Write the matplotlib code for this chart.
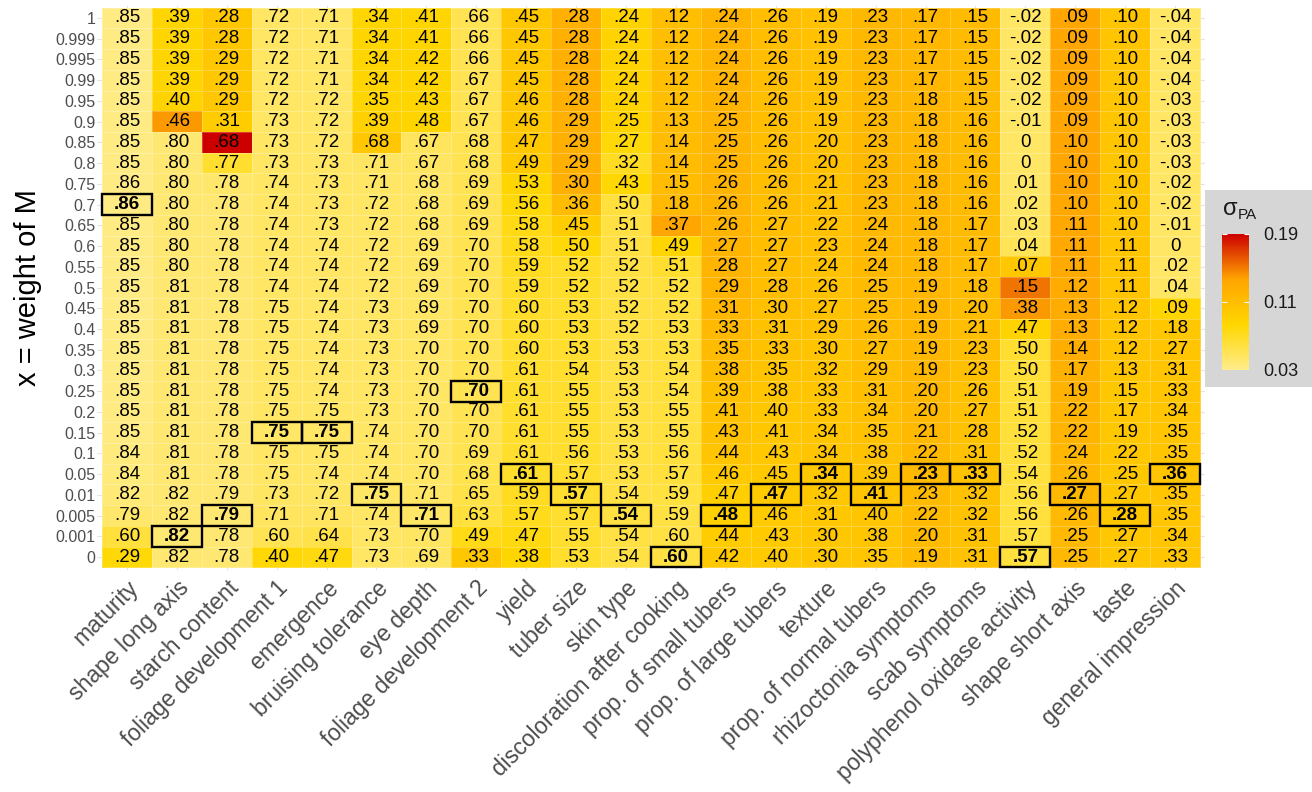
import numpy as np
import matplotlib
matplotlib.use("Agg")
import matplotlib.pyplot as plt
import matplotlib.colors as mcolors
from matplotlib.patches import Rectangle

plt.rcParams["font.family"] = ["Liberation Sans", "DejaVu Sans"]

ROW_LABELS = ["1", "0.999", "0.995", "0.99", "0.95", "0.9", "0.85", "0.8", "0.75", "0.7",
              "0.65", "0.6", "0.55", "0.5", "0.45", "0.4", "0.35", "0.3", "0.25", "0.2",
              "0.15", "0.1", "0.05", "0.01", "0.005", "0.001", "0"]

TRAITS = ["maturity", "shape long axis", "starch content", "foliage development 1",
          "emergence", "bruising tolerance", "eye depth", "foliage development 2",
          "yield", "tuber size", "skin type", "discoloration after cooking",
          "prop. of small tubers", "prop. of large tubers", "texture",
          "prop. of normal tubers", "rhizoctonia symptoms", "scab symptoms",
          "polyphenol oxidase activity", "shape short axis", "taste", "general impression"]

# correlation shown in each cell (rows top -> bottom as ROW_LABELS)
r_maturity   = [.85,.85,.85,.85,.85,.85,.85,.85,.86,.86,.85,.85,.85,.85,.85,.85,.85,.85,.85,.85,.85,.84,.84,.82,.79,.60,.29]
r_shape_long = [.39,.39,.39,.39,.40,.46,.80,.80,.80,.80,.80,.80,.80,.81,.81,.81,.81,.81,.81,.81,.81,.81,.81,.82,.82,.82,.82]
r_starch     = [.28,.28,.29,.29,.29,.31,.68,.77,.78,.78,.78,.78,.78,.78,.78,.78,.78,.78,.78,.78,.78,.78,.78,.79,.79,.78,.78]
r_fd1        = [.72,.72,.72,.72,.72,.73,.73,.73,.74,.74,.74,.74,.74,.74,.75,.75,.75,.75,.75,.75,.75,.75,.75,.73,.71,.60,.40]
r_emergence  = [.71,.71,.71,.71,.72,.72,.72,.73,.73,.73,.73,.74,.74,.74,.74,.74,.74,.74,.74,.75,.75,.75,.74,.72,.71,.64,.47]
r_bruising   = [.34,.34,.34,.34,.35,.39,.68,.71,.71,.72,.72,.72,.72,.72,.73,.73,.73,.73,.73,.73,.74,.74,.74,.75,.74,.73,.73]
r_eye        = [.41,.41,.42,.42,.43,.48,.67,.67,.68,.68,.68,.69,.69,.69,.69,.69,.70,.70,.70,.70,.70,.70,.70,.71,.71,.70,.69]
r_fd2        = [.66,.66,.66,.67,.67,.67,.68,.68,.69,.69,.69,.70,.70,.70,.70,.70,.70,.70,.70,.70,.70,.69,.68,.65,.63,.49,.33]
r_yield      = [.45,.45,.45,.45,.46,.46,.47,.49,.53,.56,.58,.58,.59,.59,.60,.60,.60,.61,.61,.61,.61,.61,.61,.59,.57,.47,.38]
r_tuber      = [.28,.28,.28,.28,.28,.29,.29,.29,.30,.36,.45,.50,.52,.52,.53,.53,.53,.54,.55,.55,.55,.56,.57,.57,.57,.55,.53]
r_skin       = [.24,.24,.24,.24,.24,.25,.27,.32,.43,.50,.51,.51,.52,.52,.52,.52,.53,.53,.53,.53,.53,.53,.53,.54,.54,.54,.54]
r_discol     = [.12,.12,.12,.12,.12,.13,.14,.14,.15,.18,.37,.49,.51,.52,.52,.53,.53,.54,.54,.55,.55,.56,.57,.59,.59,.60,.60]
r_small      = [.24,.24,.24,.24,.24,.25,.25,.25,.26,.26,.26,.27,.28,.29,.31,.33,.35,.38,.39,.41,.43,.44,.46,.47,.48,.44,.42]
r_large      = [.26,.26,.26,.26,.26,.26,.26,.26,.26,.26,.27,.27,.27,.28,.30,.31,.33,.35,.38,.40,.41,.43,.45,.47,.46,.43,.40]
r_texture    = [.19,.19,.19,.19,.19,.19,.20,.20,.21,.21,.22,.23,.24,.26,.27,.29,.30,.32,.33,.33,.34,.34,.34,.32,.31,.30,.30]
r_normal     = [.23,.23,.23,.23,.23,.23,.23,.23,.23,.23,.24,.24,.24,.25,.25,.26,.27,.29,.31,.34,.35,.38,.39,.41,.40,.38,.35]
r_rhizo      = [.17,.17,.17,.17,.18,.18,.18,.18,.18,.18,.18,.18,.18,.19,.19,.19,.19,.19,.20,.20,.21,.22,.23,.23,.22,.20,.19]
r_scab       = [.15,.15,.15,.15,.15,.16,.16,.16,.16,.16,.17,.17,.17,.18,.20,.21,.23,.23,.26,.27,.28,.31,.33,.32,.32,.31,.31]
r_ppo        = [-.02,-.02,-.02,-.02,-.02,-.01,0,0,.01,.02,.03,.04,.07,.15,.38,.47,.50,.50,.51,.51,.52,.52,.54,.56,.56,.57,.57]
r_short      = [.09,.09,.09,.09,.09,.09,.10,.10,.10,.10,.11,.11,.11,.12,.13,.13,.14,.17,.19,.22,.22,.24,.26,.27,.26,.25,.25]
r_taste      = [.10,.10,.10,.10,.10,.10,.10,.10,.10,.10,.10,.11,.11,.11,.12,.12,.12,.13,.15,.17,.19,.22,.25,.27,.28,.27,.27]
r_general    = [-.04,-.04,-.04,-.04,-.03,-.03,-.03,-.03,-.02,-.02,-.01,0,.02,.04,.09,.18,.27,.31,.33,.34,.35,.35,.36,.35,.35,.34,.33]

# sigma_PA (fill colour), estimated from the tile colours
s_maturity   = [.033,.033,.033,.033,.033,.033,.033,.033,.033,.033,.033,.033,.033,.033,.033,.033,.033,.033,.034,.034,.034,.035,.036,.038,.042,.060,.080]
s_shape_long = [.085,.085,.085,.085,.087,.140,.040,.040,.040,.040,.040,.040,.040,.040,.040,.040,.040,.040,.040,.040,.040,.040,.040,.040,.040,.040,.040]
s_starch     = [.100,.100,.100,.100,.100,.095,.190,.065,.042,.040,.040,.040,.040,.040,.040,.040,.040,.040,.040,.040,.040,.040,.040,.040,.040,.040,.040]
s_fd1        = [.045,.045,.045,.045,.045,.045,.045,.045,.045,.045,.045,.045,.045,.045,.045,.045,.045,.045,.045,.045,.045,.045,.045,.046,.047,.052,.082]
s_emergence  = [.045,.045,.045,.045,.045,.045,.045,.045,.045,.045,.045,.045,.045,.045,.045,.045,.045,.045,.045,.045,.045,.045,.045,.046,.047,.055,.078]
s_bruising   = [.085,.085,.085,.085,.085,.090,.100,.046,.045,.045,.045,.045,.045,.045,.045,.045,.045,.045,.045,.045,.045,.045,.045,.045,.045,.045,.045]
s_eye        = [.085,.085,.085,.085,.085,.085,.048,.046,.045,.045,.045,.045,.045,.045,.045,.045,.045,.045,.045,.045,.045,.045,.045,.045,.045,.046,.046]
s_fd2        = [.052,.052,.052,.052,.052,.052,.052,.052,.052,.052,.052,.052,.052,.052,.052,.052,.052,.052,.052,.052,.052,.053,.054,.056,.060,.075,.100]
s_yield      = [.100,.100,.100,.100,.100,.100,.100,.097,.085,.080,.075,.074,.070,.068,.067,.067,.066,.066,.066,.066,.066,.066,.067,.070,.072,.078,.085]
s_tuber      = [.125,.125,.125,.125,.125,.125,.125,.125,.125,.112,.095,.080,.068,.067,.066,.066,.065,.065,.065,.065,.065,.065,.065,.065,.065,.065,.066]
s_skin       = [.087,.087,.087,.087,.087,.087,.080,.070,.082,.060,.058,.058,.058,.058,.058,.058,.058,.058,.058,.058,.058,.058,.058,.058,.058,.058,.058]
s_discol     = [.110,.110,.110,.110,.110,.112,.112,.112,.112,.115,.135,.085,.065,.060,.060,.060,.060,.060,.060,.060,.060,.060,.060,.059,.058,.058,.058]
s_small      = [.120,.120,.120,.120,.120,.120,.120,.120,.120,.120,.120,.120,.120,.120,.117,.115,.113,.111,.108,.106,.105,.103,.097,.092,.090,.095,.098]
s_large      = [.110,.110,.110,.110,.110,.110,.110,.110,.110,.110,.110,.110,.110,.110,.108,.106,.105,.104,.102,.100,.100,.099,.098,.097,.097,.097,.097]
s_texture    = [.107,.107,.107,.107,.107,.107,.107,.107,.107,.107,.107,.107,.106,.106,.105,.105,.104,.104,.103,.103,.102,.102,.101,.100,.100,.100,.100]
s_normal     = [.116,.116,.116,.116,.116,.116,.116,.116,.116,.116,.115,.115,.114,.113,.112,.112,.111,.110,.109,.108,.107,.105,.104,.102,.102,.102,.103]
s_rhizo      = [.118,.118,.118,.118,.118,.118,.118,.118,.118,.118,.118,.118,.118,.117,.117,.117,.116,.116,.116,.115,.115,.114,.114,.113,.113,.113,.113]
s_scab       = [.113,.113,.113,.113,.113,.113,.113,.113,.113,.113,.113,.113,.112,.112,.111,.110,.109,.108,.107,.106,.106,.105,.105,.105,.105,.105,.105]
s_ppo        = [.045,.045,.045,.045,.045,.045,.045,.045,.045,.046,.047,.050,.100,.152,.140,.088,.065,.062,.062,.062,.061,.061,.060,.060,.060,.060,.060]
s_short      = [.136,.136,.136,.136,.136,.136,.135,.134,.134,.133,.132,.132,.131,.130,.129,.128,.127,.124,.122,.120,.119,.118,.117,.116,.115,.115,.115]
s_taste      = [.102,.102,.102,.102,.102,.102,.102,.102,.102,.102,.102,.102,.102,.102,.102,.102,.102,.102,.101,.101,.101,.100,.100,.100,.100,.100,.100]
s_general    = [.045,.045,.045,.045,.045,.045,.045,.045,.045,.045,.045,.045,.045,.046,.085,.100,.102,.102,.102,.102,.102,.102,.102,.102,.102,.102,.102]

# row label of the boxed (best) cell for each trait
BEST = ["0.7", "0.001", "0.005", "0.15", "0.15", "0.01", "0.005", "0.25", "0.05", "0.01",
        "0.005", "0", "0.005", "0.01", "0.05", "0.01", "0.05", "0.05", "0", "0.01",
        "0.005", "0.05"]

corr = np.column_stack([r_maturity, r_shape_long, r_starch, r_fd1, r_emergence, r_bruising,
                        r_eye, r_fd2, r_yield, r_tuber, r_skin, r_discol, r_small, r_large,
                        r_texture, r_normal, r_rhizo, r_scab, r_ppo, r_short, r_taste, r_general])
sigma = np.column_stack([s_maturity, s_shape_long, s_starch, s_fd1, s_emergence, s_bruising,
                         s_eye, s_fd2, s_yield, s_tuber, s_skin, s_discol, s_small, s_large,
                         s_texture, s_normal, s_rhizo, s_scab, s_ppo, s_short, s_taste, s_general])
n_rows, n_cols = corr.shape

cmap = mcolors.LinearSegmentedColormap.from_list(
    "sig", ["#FFEC8B", "#FFD700", "#FFA500", "#CD0000"], N=256)
VMIN, VMAX = 0.03, 0.19


def fmt(v):
    if round(v, 2) == 0:
        return "0"
    s = f"{v:.2f}"
    return s.replace("0.", ".", 1)


W, H = 1312, 792
fig = plt.figure(figsize=(W / 100, H / 100), dpi=100)

# legend background box (drawn under everything)
fig.patches.append(Rectangle((1203 / W, 1 - 387 / H), 109 / W, 197 / H,
                             transform=fig.transFigure, fc="#D6D6D6", ec="none", zorder=-5))

ax = fig.add_axes([97 / W, 1 - 569.5 / H, (1205 - 97) / W, (569.5 - 5.5) / H])

mesh = ax.pcolormesh(np.arange(n_cols + 1) - 0.5, np.arange(n_rows + 1) - 0.5, sigma,
                     cmap=cmap, vmin=VMIN, vmax=VMAX,
                     edgecolors=(1, 1, 1, 0.25), linewidth=0.6, zorder=1)

for i in range(n_rows):
    for j in range(n_cols):
        best = ROW_LABELS[i] == BEST[j]
        ax.text(j, i, fmt(corr[i, j]), ha="center", va="center", fontsize=13.5,
                fontweight="bold" if best else "normal", color="black", zorder=3)
        if best:
            ax.add_patch(Rectangle((j - 0.5, i - 0.5), 1, 1, fill=False,
                                   ec="black", lw=1.7, zorder=4))

ax.set_xlim(-0.6, n_cols - 0.4)
ax.set_ylim(n_rows - 0.4, -0.6)
ax.set_xticks(range(n_cols))
ax.set_yticks(range(n_rows))
ax.set_xticklabels(TRAITS, rotation=45, ha="right", va="top", rotation_mode="anchor",
                   fontsize=16.5, color="#4D4D4D")
ax.set_yticklabels(ROW_LABELS, fontsize=11.5, color="#4D4D4D")
ax.tick_params(length=0, pad=1)
ax.tick_params(axis="x", pad=5)
ax.grid(True, color="#E5E5E5", lw=0.8)
ax.set_axisbelow(True)
for sp in ax.spines.values():
    sp.set_visible(False)
ax.set_ylabel("x = weight of M", fontsize=21, labelpad=10)

cax = fig.add_axes([1222 / W, 1 - 370 / H, 27 / W, 136 / H])
sm = plt.cm.ScalarMappable(cmap=cmap, norm=mcolors.Normalize(VMIN, VMAX))
cb = fig.colorbar(sm, cax=cax, ticks=[0.03, 0.11, 0.19])
cb.ax.set_yticklabels(["0.03", "0.11", "0.19"])
cb.outline.set_visible(False)
cax.tick_params(length=0, labelsize=13, pad=10, labelcolor="#1A1A1A")
for v in [0.03, 0.11, 0.19]:
    cax.hlines(v, 0, 0.2, colors="white", lw=0.8)
    cax.hlines(v, 0.8, 1, colors="white", lw=0.8)
fig.text(1223 / W, 1 - 215 / H, "σ", fontsize=17, va="baseline", color="#1A1A1A")
fig.text(1238 / W, 1 - 219 / H, "PA", fontsize=11, va="baseline", color="#1A1A1A")

fig.savefig("out.png", dpi=100)
